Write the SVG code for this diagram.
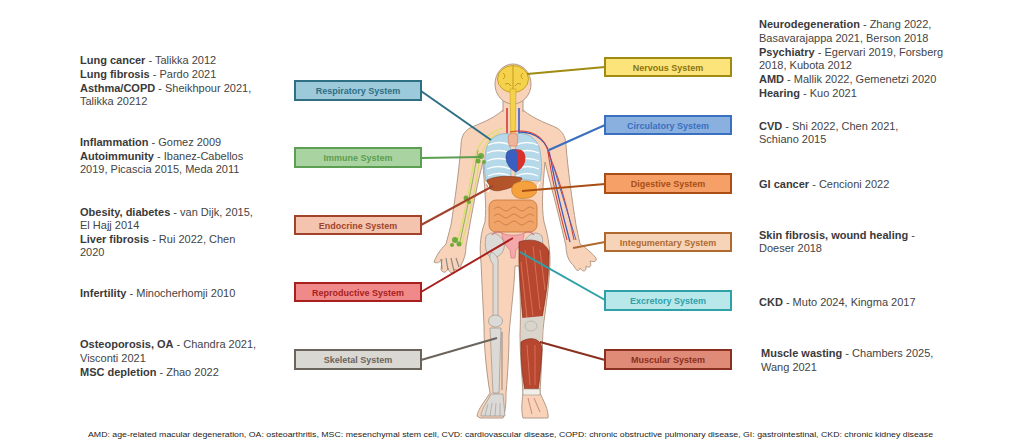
<svg xmlns="http://www.w3.org/2000/svg" width="1024" height="446" viewBox="0 0 1024 446">
<style>
.t{font-family:"Liberation Sans",Arial,sans-serif;font-size:11px;fill:#444}
.t .b{font-weight:bold;fill:#3a3a3a}
.lbl{font-family:"Liberation Sans",Arial,sans-serif;font-size:9px;font-weight:bold;text-anchor:middle}
.box{stroke-width:2}
.con{fill:none;stroke-width:2}
.foot{font-family:"Liberation Sans",Arial,sans-serif;font-size:8px;fill:#222}
.bone{fill:#dcdad6;stroke:#9a948e;stroke-width:0.7}
</style>
<rect width="1024" height="446" fill="#ffffff"/>

<!-- body illustration -->
<g id="body">
  <path d="M503,110 C492,120 478,124 470,128 C463,132 461,138 461,146 C459,170 455,200 451,225 L446,244 C440,250 436,256 434,262 C437,264 440,262 442,259 L441,270 C444,274 447,272 448,268 C450,275 454,274 455,269 C458,272 461,270 461,265 C464,260 466,254 466,246 C469,230 474,200 479,178 L483,162 C484,185 487,205 485,222 C481,232 479,245 481,262 C482,285 483,305 484,325 C484,350 487,375 490,393 C485,401 478,409 477,416 L480,418 L503,418 C506,410 506,400 506,393 C508,370 509,350 509,335 C511,310 514,290 515,266 L519,266 C520,290 521,310 520,335 C520,355 522,375 523,393 C522,402 521,410 523,418 L548,418 C549,410 543,400 540,393 C541,375 542,355 543,330 C545,310 549,290 550,262 C550,245 547,232 544,222 C541,205 543,185 545,162 L549,178 C555,200 561,225 566,246 C566,255 569,262 574,266 C576,271 579,272 580,268 C583,273 587,271 586,266 C590,269 592,266 590,261 C594,262 597,262 596,258 C592,253 586,248 580,244 L576,225 C572,200 568,170 566,146 C566,138 563,132 557,128 C549,124 535,120 523,110 Z" fill="#f8d3b9" stroke="#b39a88" stroke-width="1"/>
  <!-- head & neck -->
  <rect x="503" y="94" width="20" height="24" fill="#f8d3b9"/>
  <line x1="503" y1="96" x2="503" y2="112" stroke="#b39a88" stroke-width="1"/>
  <line x1="523" y1="96" x2="523" y2="112" stroke="#b39a88" stroke-width="1"/>
  <ellipse cx="513" cy="84" rx="18" ry="20" fill="#f8d3b9" stroke="#b39a88" stroke-width="1"/>
  <ellipse cx="513" cy="79" rx="15.5" ry="13.5" fill="#f5d24b" stroke="#c9a21f" stroke-width="1"/>
  <path d="M513,66 L513,92 M503,73 q4,3 0,6 M523,73 q-4,3 0,6 M505,84 q4,-2 6,2 M521,84 q-4,-2 -6,2" fill="none" stroke="#b58c14" stroke-width="0.8"/>
  <!-- spinal cord -->
  <path d="M510,89 L516,89 L515,142 L511,142 Z" fill="#f5d24b" stroke="#c9a21f" stroke-width="0.6"/>
  <!-- vessels neck -->
  <path d="M507,108 L507,145" stroke="#d33a34" stroke-width="1.6"/>
  <path d="M519,108 L519,145" stroke="#3a5fc0" stroke-width="1.6"/>
  <!-- lungs -->
  <path d="M510,134 C500,132 489,137 486,150 C484,162 484,172 486,181 L511,179 Z" fill="#b6d9ea" stroke="#8fb3c6" stroke-width="0.8"/>
  <path d="M516,134 C526,132 537,137 540,150 C542,162 542,172 540,181 L515,179 Z" fill="#b6d9ea" stroke="#8fb3c6" stroke-width="0.8"/>
  <path d="M488,145 q11,-5 22,0 M487,153 q11,-5 23,0 M487,161 q11,-5 23,0 M487,169 q11,-5 23,0 M488,176 q11,-5 22,0 M516,145 q11,-5 22,0 M516,153 q11,-5 23,0 M516,161 q11,-5 23,0 M516,169 q11,-5 23,0 M516,176 q11,-5 22,0" fill="none" stroke="#ffffff" stroke-width="1.3"/>
  <!-- thymus/trachea -->
  <path d="M508,136 q5,-6 10,0 l-1,10 l-8,0 Z" fill="#f0b49a" stroke="#c87f64" stroke-width="0.6"/>
  <!-- heart -->
  <path d="M507,152 C504,160 508,168 516,172 C522,168 526,162 524,154 C520,149 512,148 507,152 Z" fill="#3a5fc0" stroke="#23408a" stroke-width="0.6"/>
  <path d="M516,150 C522,148 527,153 525,162 C523,167 520,170 517,171 C519,163 518,156 516,150 Z" fill="#d8322c"/>
  <!-- liver -->
  <path d="M487,180 C495,176 510,175 522,178 C520,184 512,188 502,190 C496,192 490,190 487,186 Z" fill="#b3542b" stroke="#7e3518" stroke-width="0.6"/>
  <!-- stomach -->
  <path d="M514,184 C522,179 535,180 537,188 C538,196 528,200 518,198 C511,196 510,188 514,184 Z" fill="#f4a13e" stroke="#c07420" stroke-width="0.6"/>
  <path d="M486,182 q4,4 2,10 M540,182 q-4,4 -2,10" stroke="#ffffff" stroke-width="1.2" fill="none"/>
  <!-- intestines -->
  <rect x="489" y="200" width="48" height="32" rx="7" fill="#f0a468" stroke="#c3733a" stroke-width="0.8"/>
  <path d="M494,209 q4,-4 8,0 t8,0 t8,0 t8,0 t8,0 M494,216 q4,-4 8,0 t8,0 t8,0 t8,0 t8,0 M494,223 q4,-4 8,0 t8,0 t8,0 t8,0 t8,0" fill="none" stroke="#c3733a" stroke-width="0.7"/>
  <!-- pelvis -->
  <path class="bone" d="M486,236 C492,230 500,234 504,242 C506,250 500,258 492,258 C486,256 484,246 486,236 Z"/>
  <path class="bone" d="M542,236 C536,230 528,234 524,242 C522,250 528,258 536,258 C542,256 544,246 542,236 Z"/>
  <!-- uterus -->
  <path d="M502,233 C507,236 519,236 524,233 C524,241 520,246 516,250 L515,258 L511,258 L510,250 C506,246 502,241 502,233 Z" fill="#f4a8aa" stroke="#cf7b7e" stroke-width="0.7"/>
  <path d="M502,233 q-6,-3 -10,2 M524,233 q6,-3 10,2" fill="none" stroke="#cf7b7e" stroke-width="1.2"/>
  <!-- left leg skeleton -->
  <path class="bone" d="M492,252 C496,255 499,258 498,264 L498,316 L493,316 L493,264 C490,260 488,256 492,252 Z"/>
  <ellipse class="bone" cx="495.5" cy="321" rx="7" ry="6"/>
  <path class="bone" d="M490,328 L501,328 L499,393 L493,393 Z"/>
  <line x1="502" y1="332" x2="502" y2="390" stroke="#9a948e" stroke-width="1.2"/>
  <path class="bone" d="M491,394 L503,394 L505,416 L481,416 C481,410 487,402 491,394 Z"/>
  <path d="M485,416 L488,404 M490,416 L492,403 M495,416 L496,403 M500,416 L500,403" stroke="#9a948e" stroke-width="0.6"/>
  <!-- left hand bones -->
  <path d="M441,259 L442,269 M446,258 L448,270 M451,258 L454,271 M456,258 L459,267" stroke="#8f8a84" stroke-width="1.2"/>
  <!-- right leg muscles -->
  <path d="M519,242 C530,238 545,240 549,252 C549,280 545,300 542,318 L523,320 C521,300 520,280 519,262 Z" fill="#b7472f" stroke="#7e2a18" stroke-width="0.7"/>
  <path d="M525,250 L533,316 M533,246 L540,310 M521,262 L527,318 M540,250 L545,290" stroke="#dd7a60" stroke-width="0.8" fill="none"/>
  <path d="M522,318 L543,316 L542,342 L521,342 Z" fill="#d9d4cc"/>
  <ellipse cx="531" cy="326" rx="6" ry="5" fill="none" stroke="#b8b0a6" stroke-width="0.8"/>
  <path d="M521,342 C530,336 542,338 542,350 C541,365 540,378 538,390 L525,390 C522,375 521,360 521,342 Z" fill="#b7472f" stroke="#7e2a18" stroke-width="0.7"/>
  <path d="M527,345 L530,385 M535,345 L535,385" stroke="#dd7a60" stroke-width="0.8" fill="none"/>
  <rect x="523" y="389" width="17" height="6" fill="#f2efe8" stroke="#9a948e" stroke-width="0.6"/>
  <path d="M528,398 L532,414 M534,398 L540,412" stroke="#c4766a" stroke-width="0.8"/>
  <!-- lymph left arm -->
  <path d="M503,128 C490,132 478,140 474,160 C470,185 466,210 458,240 M500,132 C488,138 480,150 478,170 C474,195 468,220 462,244" fill="none" stroke="#d9df6a" stroke-width="1.2"/>
  <path d="M478,150 C474,175 468,205 460,242" fill="none" stroke="#7fb04a" stroke-width="0.9"/>
  <circle cx="481" cy="156" r="3" fill="#6faa3c"/><circle cx="478" cy="161" r="2.5" fill="#6faa3c"/><circle cx="484" cy="162" r="2" fill="#6faa3c"/>
  <circle cx="466" cy="198" r="2.5" fill="#6faa3c"/><circle cx="469" cy="202" r="2" fill="#6faa3c"/>
  <circle cx="455" cy="240" r="3" fill="#6faa3c"/><circle cx="459" cy="244" r="2.5" fill="#6faa3c"/><circle cx="452" cy="245" r="2" fill="#6faa3c"/>
  <!-- vessels right arm -->
  <path d="M519,132 C535,132 548,140 551,160 C556,190 563,215 570,242" fill="none" stroke="#3a5fc0" stroke-width="1.3"/>
  <path d="M510,132 C530,128 545,136 548,152 C552,180 559,210 567,240 M548,152 C560,180 568,210 574,240" fill="none" stroke="#d33a34" stroke-width="1"/>
  <path d="M553,165 C561,190 568,215 576,240" fill="none" stroke="#3a5fc0" stroke-width="0.9"/>
</g>

<!-- connectors -->
<g id="connectors">
  <line class="con" x1="605" y1="67" x2="527" y2="74" stroke="#a08b12"/>
  <line class="con" x1="421" y1="91" x2="491" y2="140" stroke="#2e6f84"/>
  <line class="con" x1="421" y1="158" x2="481" y2="157" stroke="#5c9e52"/>
  <line class="con" x1="605" y1="125" x2="549" y2="150" stroke="#3b6fbf"/>
  <line class="con" x1="605" y1="184" x2="522" y2="191" stroke="#a84e14"/>
  <line class="con" x1="421" y1="225" x2="493" y2="186" stroke="#a0432a"/>
  <line class="con" x1="605" y1="242" x2="573" y2="248" stroke="#b06a30"/>
  <line class="con" x1="421" y1="292" x2="513" y2="238" stroke="#a8201e"/>
  <line class="con" x1="605" y1="300" x2="520" y2="252" stroke="#2ea0a8"/>
  <line class="con" x1="421" y1="360" x2="497" y2="338" stroke="#6b645c"/>
  <line class="con" x1="605" y1="360" x2="540" y2="342" stroke="#8a3020"/>
</g>

<!-- nodes -->
<g id="respiratory"><rect class="box" x="295" y="81" width="126" height="19" fill="#9ccadb" stroke="#2e6f84"/><text class="lbl" x="358" y="94" fill="#2e6f84">Respiratory System</text></g>
<g id="immune"><rect class="box" x="295" y="148" width="126" height="19" fill="#a9d3a0" stroke="#5c9e52"/><text class="lbl" x="358" y="161" fill="#5c9e52">Immune System</text></g>
<g id="endocrine"><rect class="box" x="295" y="216" width="126" height="18" fill="#f5c4ae" stroke="#a0432a"/><text class="lbl" x="358" y="228.5" fill="#a0432a">Endocrine System</text></g>
<g id="reproductive"><rect class="box" x="295" y="283" width="126" height="18" fill="#f08a8a" stroke="#a8201e"/><text class="lbl" x="358" y="295.5" fill="#a8201e">Reproductive System</text></g>
<g id="skeletal"><rect class="box" x="295" y="350" width="126" height="19" fill="#dad8d3" stroke="#6b645c"/><text class="lbl" x="358" y="363" fill="#6b645c">Skeletal System</text></g>
<g id="nervous"><rect class="box" x="605" y="58" width="126" height="18" fill="#fce47a" stroke="#a08b12"/><text class="lbl" x="668" y="70.5" fill="#8a7510">Nervous System</text></g>
<g id="circulatory"><rect class="box" x="605" y="116" width="126" height="18" fill="#8ab0e0" stroke="#3b6fbf"/><text class="lbl" x="668" y="128.5" fill="#3b6fbf">Circulatory System</text></g>
<g id="digestive"><rect class="box" x="605" y="174" width="126" height="19" fill="#f6a068" stroke="#a84e14"/><text class="lbl" x="668" y="187" fill="#a84e14">Digestive System</text></g>
<g id="integumentary"><rect class="box" x="605" y="233" width="126" height="18" fill="#f6d4b9" stroke="#b06a30"/><text class="lbl" x="668" y="245.5" fill="#b06a30">Integumentary System</text></g>
<g id="excretory"><rect class="box" x="605" y="291" width="126" height="19" fill="#b8e8ea" stroke="#2ea0a8"/><text class="lbl" x="668" y="304" fill="#2ea0a8">Excretory System</text></g>
<g id="muscular"><rect class="box" x="605" y="350" width="126" height="19" fill="#e08a78" stroke="#8a3020"/><text class="lbl" x="668" y="363" fill="#8a3020">Muscular System</text></g>

<!-- left texts -->
<g id="left-notes">
<text class="t" x="80" y="64"><tspan class="b">Lung cancer</tspan> - Talikka 2012</text>
<text class="t" x="80" y="78"><tspan class="b">Lung fibrosis</tspan> - Pardo 2021</text>
<text class="t" x="80" y="92"><tspan class="b">Asthma/COPD</tspan> - Sheikhpour 2021,</text>
<text class="t" x="80" y="105">Talikka 20212</text>
<text class="t" x="80" y="146"><tspan class="b">Inflammation</tspan> - Gomez 2009</text>
<text class="t" x="80" y="160"><tspan class="b">Autoimmunity</tspan> - Ibanez-Cabellos</text>
<text class="t" x="80" y="173">2019, Picascia 2015, Meda 2011</text>
<text class="t" x="80" y="216"><tspan class="b">Obesity, diabetes</tspan> - van Dijk, 2015,</text>
<text class="t" x="80" y="229">El Hajj 2014</text>
<text class="t" x="80" y="243"><tspan class="b">Liver fibrosis</tspan> - Rui 2022, Chen</text>
<text class="t" x="80" y="256">2020</text>
<text class="t" x="80" y="297"><tspan class="b">Infertility</tspan> - Minocherhomji 2010</text>
<text class="t" x="80" y="348"><tspan class="b">Osteoporosis, OA</tspan> - Chandra 2021,</text>
<text class="t" x="80" y="362">Visconti 2021</text>
<text class="t" x="80" y="376"><tspan class="b">MSC depletion</tspan> - Zhao 2022</text>
</g>

<!-- right texts -->
<g id="right-notes">
<text class="t" x="759" y="28"><tspan class="b">Neurodegeneration</tspan> - Zhang 2022,</text>
<text class="t" x="759" y="42">Basavarajappa 2021, Berson 2018</text>
<text class="t" x="759" y="56"><tspan class="b">Psychiatry</tspan> - Egervari 2019, Forsberg</text>
<text class="t" x="759" y="69">2018, Kubota 2012</text>
<text class="t" x="759" y="83"><tspan class="b">AMD</tspan> - Mallik 2022, Gemenetzi 2020</text>
<text class="t" x="759" y="97"><tspan class="b">Hearing</tspan> - Kuo 2021</text>
<text class="t" x="759" y="130"><tspan class="b">CVD</tspan> - Shi 2022, Chen 2021,</text>
<text class="t" x="759" y="143">Schiano 2015</text>
<text class="t" x="759" y="188"><tspan class="b">GI cancer</tspan> - Cencioni 2022</text>
<text class="t" x="759" y="239"><tspan class="b">Skin fibrosis, wound healing</tspan> -</text>
<text class="t" x="759" y="252">Doeser 2018</text>
<text class="t" x="759" y="306"><tspan class="b">CKD</tspan> - Muto 2024, Kingma 2017</text>
<text class="t" x="761" y="357"><tspan class="b">Muscle wasting</tspan> - Chambers 2025,</text>
<text class="t" x="761" y="371">Wang 2021</text>
</g>

<text class="foot" x="88" y="437" textLength="845" lengthAdjust="spacingAndGlyphs">AMD: age-related macular degeneration, OA: osteoarthritis, MSC: mesenchymal stem cell, CVD: cardiovascular disease, COPD: chronic obstructive pulmonary disease, GI: gastrointestinal, CKD: chronic kidney disease</text>
</svg>
